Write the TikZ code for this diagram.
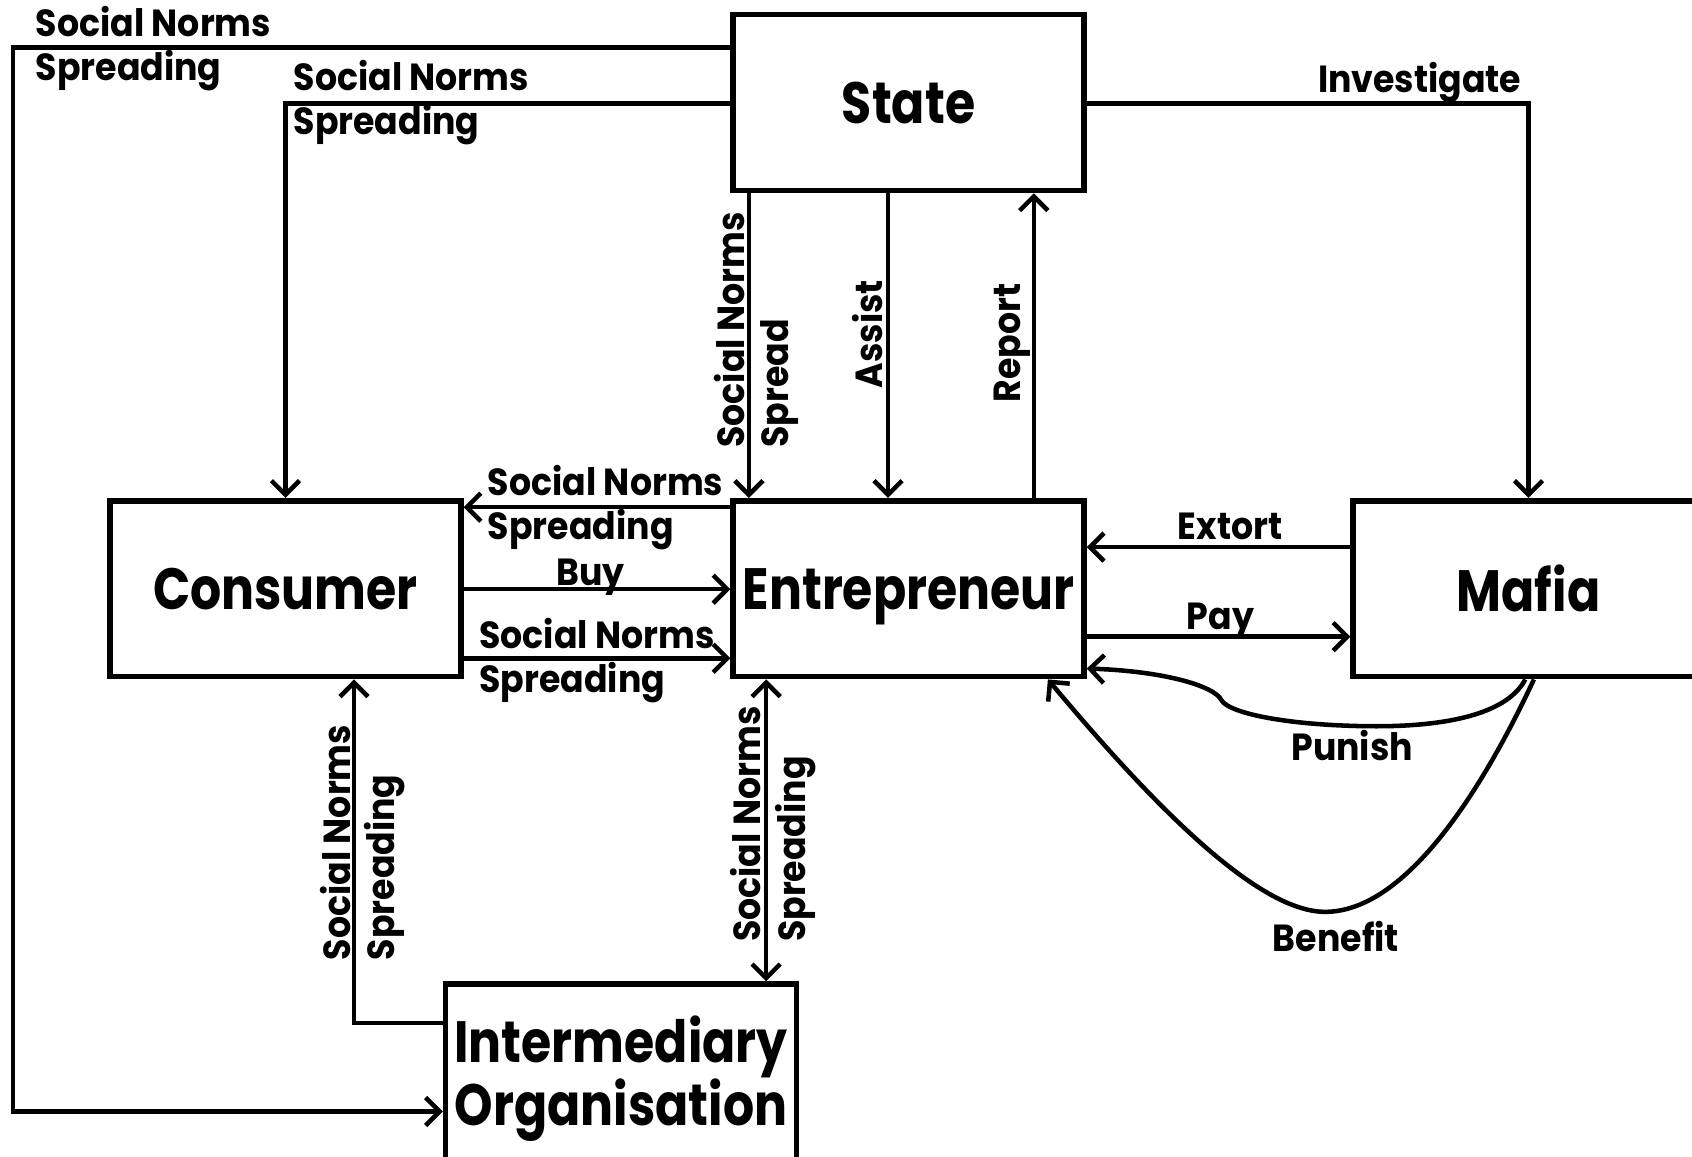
\documentclass[tikz,border=0pt]{standalone}
\usepackage{fontspec}
\setmainfont{Poppins}
\newfontfamily\boxfont{Poppins}[FakeStretch=0.84]
\newfontfamily\lblfont{Poppins}[FakeStretch=0.92]
\usetikzlibrary{arrows.meta}
\begin{document}
\begin{tikzpicture}[x=1pt,y=-1pt,
  box/.style={draw, line width=5.2pt, minimum width=325pt, minimum height=163pt, inner sep=0pt, font=\boxfont\bfseries\fontsize{54}{57}\selectfont, align=center},
  tip/.tip={Straight Barb[length=13pt,width=26pt,line width=4.2pt]},
  conn/.style={line width=4.2pt, -tip},
  lbl/.style={font=\lblfont\bfseries\fontsize{35}{41}\selectfont, inner sep=0pt, align=left},
]
\fill[white] (0,0) rectangle (1568,1072);
\useasboundingbox (0,0) rectangle (1568,1072);

\node[box] (state) at (842,95) {State};
\node[box, text depth=0pt] (ent) at (842,545.5) {Entrepreneur};
\node[box] (cons) at (264.5,545.5) {Consumer};
\node[box] (mafia) at (1416.5,545.5) {Mafia};
\node[box] (inter) at (575.5,993.5) {\rule{0pt}{56pt}Intermediary\\Organisation};

\coordinate (c1) at (12,1030);
\draw[conn] ([yshift=51pt]state.west) -| (c1) -- ([yshift=-36.5pt]inter.west);
\draw[conn] ([yshift=-1pt]state.west) -| (cons.north);
\draw[conn] ([yshift=-1pt]state.east) -| (mafia.north);
\draw[conn] ([xshift=-148pt]state.south) -- ([xshift=-148pt]ent.north);
\draw[conn] ([xshift=-19pt]state.south) -- ([xshift=-19pt]ent.north);
\draw[conn] ([xshift=116pt]ent.north) -- ([xshift=116pt]state.south);
\draw[conn] ([yshift=75.5pt]ent.west) -- ([yshift=75.5pt]cons.east);
\draw[conn] ([yshift=-0.5pt]cons.east) -- ([yshift=-0.5pt]ent.west);
\draw[conn] ([yshift=-64.5pt]cons.east) -- ([yshift=-64.5pt]ent.west);
\draw[conn] ([yshift=38.5pt]mafia.west) -- ([yshift=38.5pt]ent.east);
\draw[conn] ([yshift=-44.5pt]ent.east) -- ([yshift=-44.5pt]mafia.west);
\draw[conn] ([yshift=45.5pt]inter.west) -| ([xshift=63.5pt]cons.south);
\draw[line width=4.2pt, tip-tip] ([xshift=-132pt]ent.south) -- ([xshift=-132pt]ent.south |- inter.north);
% Punish
\draw[conn] ([xshift=-3pt]mafia.south) .. controls (1395,665) and (1330,673) .. (1276,673)
  .. controls (1200,673) and (1140,662) .. (1132,649)
  .. controls (1126,636) and (1080,622) .. ([yshift=-74pt]ent.east);
% Benefit
\draw[conn] ([xshift=5pt]mafia.south) .. controls (1370,740) and (1300,845) .. (1228,845)
  .. controls (1170,845) and (1080,760) .. ([xshift=-36pt]ent.south east);

% labels
\node[lbl, anchor=base west] (l1) at (33,75) {Social Norms\\Spreading};
\node[lbl, anchor=base west] (l2) at (272,125) {Social Norms\\Spreading};
\node[lbl, anchor=base east] (l3) at (1410,86) {Investigate};
\node[lbl, anchor=base west] (l4) at (452,500) {Social Norms\\Spreading};
\node[lbl, anchor=base] (l5) at (547,543) {Buy};
\node[lbl, anchor=base west] (l6) at (444,642) {Social Norms\\Spreading};
\node[lbl, anchor=base] (l7) at (1140,500) {Extort};
\node[lbl, anchor=base] (l8) at (1131,583) {Pay};
\node[lbl, anchor=base] (l9) at (1253,705) {Punish};
\node[lbl, anchor=base] (l10) at (1238,882) {Benefit};
\node[lbl, rotate=90, anchor=base west] (l11) at (731,415) {Social Norms\\Spread};
\node[lbl, rotate=90, anchor=base west] (l12) at (818,360) {Assist};
\node[lbl, rotate=90, anchor=base west] (l13) at (946,373) {Report};
\node[lbl, rotate=90, anchor=base west] (l14) at (366,890) {Social Norms\\Spreading};
\node[lbl, rotate=90, anchor=base west] (l15) at (746,873) {Social Norms\\Spreading};
\end{tikzpicture}
\end{document}
